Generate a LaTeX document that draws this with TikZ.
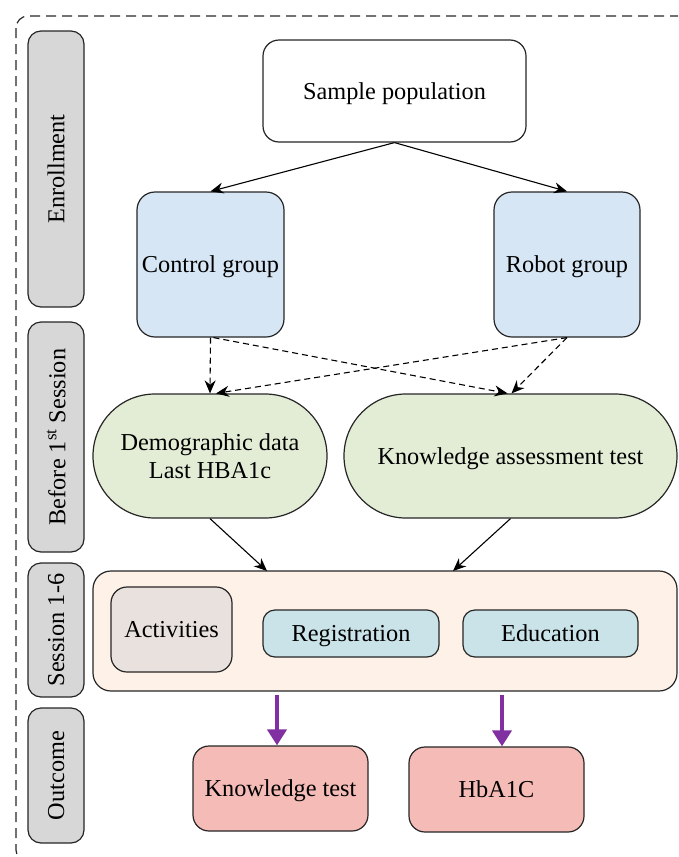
\documentclass[tikz,border=0pt]{standalone}
\usepackage{fontspec}
\setmainfont{Liberation Serif}
\usetikzlibrary{arrows.meta,calc}
\definecolor{lblgray}{HTML}{D7D7D7}
\definecolor{grpblue}{HTML}{D6E6F5}
\definecolor{stgreen}{HTML}{E3EDD6}
\definecolor{sessfill}{HTML}{FEF1E8}
\definecolor{actfill}{HTML}{E9E1DE}
\definecolor{tealfill}{HTML}{C9E3E8}
\definecolor{outred}{HTML}{F5BBB7}
\definecolor{arrpurple}{HTML}{8030A0}
\begin{document}
\begin{tikzpicture}[x=1pt,y=-1pt,
  every node/.style={font=\fontsize{24.3}{28}\selectfont, inner sep=0pt, align=center},
  box/.style={draw=black!85, line width=1.2pt, rounded corners=16pt, text depth=0pt},
  sidelbl/.style={box, fill=lblgray, rotate=90, minimum height=56pt, rounded corners=13pt},
  arr/.style={draw=black, line width=1.1pt, -{Stealth[length=13pt,width=11pt]}},
  darr/.style={arr, dash pattern=on 6pt off 4pt},
  parr/.style={draw=arrpurple, line width=4pt, -{Triangle[length=16pt,width=19pt]}}]
\useasboundingbox (0,0) rectangle (678,857);
\begin{scope}
\clip (0,0) rectangle (678,857);
\draw[black!85, line width=1.2pt, dash pattern=on 10pt off 6pt, rounded corners=12pt] (16,16) rectangle (700,862);
\end{scope}
% side labels
\node[sidelbl, minimum width=276pt] (l1) at (56,169) {Enrollment};
\node[sidelbl, minimum width=230pt] (l2) at (56,437) {Before 1\textsuperscript{st} Session};
\node[sidelbl, minimum width=134pt] (l3) at (56,630) {Session 1-6};
\node[sidelbl, minimum width=135pt] (l4) at (56,775.5) {Outcome};
% main nodes
\node[box, fill=white, minimum width=263pt, minimum height=102pt] (sp) at (394.5,91) {Sample population};
\node[box, fill=grpblue, rounded corners=18pt, minimum width=147pt, minimum height=145pt] (ctrl) at (210.5,264.5) {Control group};
\node[box, fill=grpblue, rounded corners=18pt, minimum width=146pt, minimum height=145pt] (rob) at (567,264.5) {Robot group};
\node[box, fill=stgreen, rounded corners=61.9pt, minimum width=234pt, minimum height=124pt] (demo) at (210,456) {Demographic data\\Last HBA1c};
\node[box, fill=stgreen, rounded corners=61.9pt, minimum width=333pt, minimum height=124pt] (ka) at (510.5,456) {Knowledge assessment test};
\node[box, fill=sessfill, rounded corners=18pt, minimum width=584pt, minimum height=120pt] (sess) at (385,631) {};
\node[box, fill=actfill, minimum width=121pt, minimum height=85pt] (act) at (171.5,629.5) {Activities};
\node[box, fill=tealfill, rounded corners=12pt, minimum width=176pt, minimum height=47pt] (reg) at (351,633.5) {Registration};
\node[box, fill=tealfill, rounded corners=12pt, minimum width=175pt, minimum height=47pt] (edu) at (550.5,633.5) {Education};
\node[box, fill=outred, minimum width=175pt, minimum height=85pt] (kt) at (280.5,788.5) {Knowledge test};
\node[box, fill=outred, minimum width=175pt, minimum height=85pt] (hb) at (496.5,789.5) {HbA1C};
% coordinates
\coordinate (sinL) at (267,571);
\coordinate (sinR) at (453,571);
\coordinate (poL) at (277,695);
\coordinate (poR) at (502,695);
% connectors
\draw[arr] (sp.south) -- (ctrl.north);
\draw[arr] (sp.south) -- (rob.north);
\draw[darr] (ctrl.south) -- (demo.north);
\draw[darr] ($(ctrl.south)+(3,0)$) -- ($(ka.north)+(-3,0)$);
\draw[darr] (rob.south) -- ($(ka.north)+(1,0)$);
\draw[darr] (rob.south) -- ($(demo.north)+(6,0)$);
\draw[arr] (demo.south) -- (sinL);
\draw[arr] (ka.south) -- (sinR);
\draw[parr] (poL) -- (poL |- kt.north);
\draw[parr] (poR) -- (poR |- hb.north);
\end{tikzpicture}
\end{document}
